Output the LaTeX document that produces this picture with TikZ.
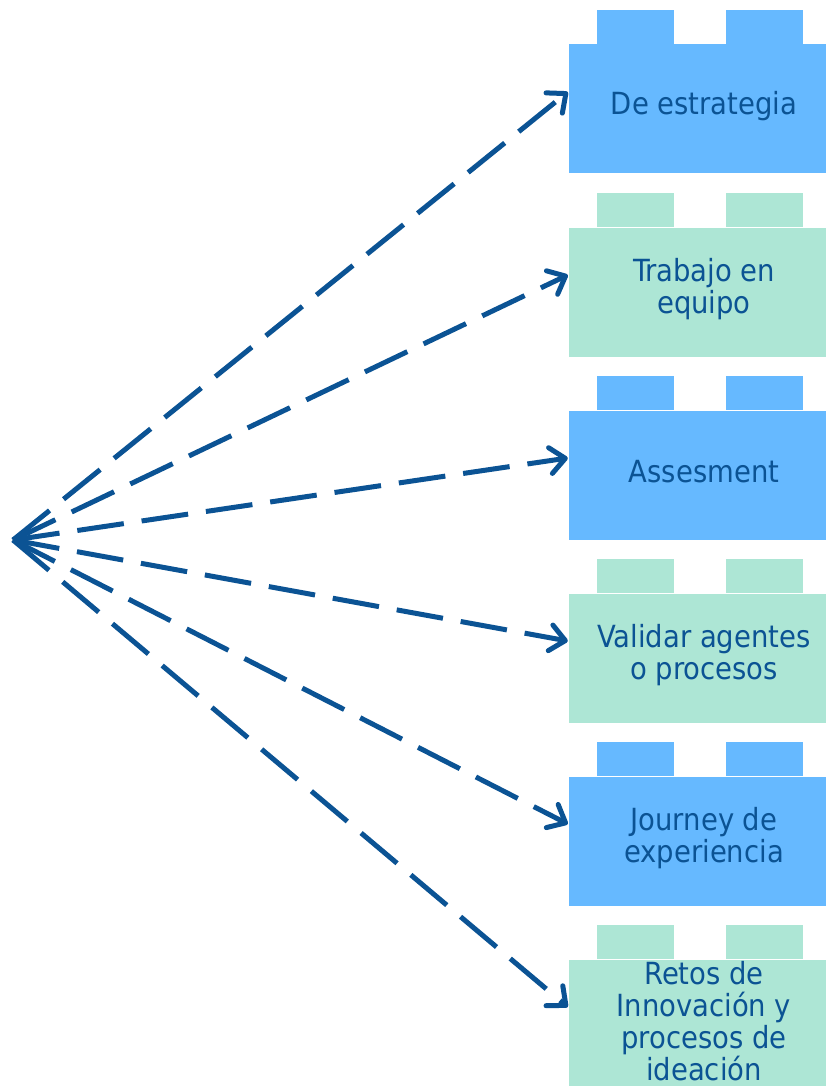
\documentclass[tikz,border=0pt]{standalone}
\usepackage{fontspec}
\setmainfont{DejaVu Sans Condensed}
\usetikzlibrary{arrows.meta}

\definecolor{legoblue}{RGB}{102,185,255}
\definecolor{legogreen}{RGB}{173,230,213}
\definecolor{inkblue}{RGB}{11,83,148}

\begin{document}
\begin{tikzpicture}

\newlength{\ydist}
\setlength{\ydist}{183pt}
\newlength{\studw}
\setlength{\studw}{77pt}
\newlength{\studh}
\setlength{\studh}{34pt}

\useasboundingbox (0,0) rectangle (825pt,-1086pt);

% styles
\pgfkeys{/lego/.style={inner sep=0, minimum width=262pt, minimum height=129pt}} % body of a brick
\pgfkeys{/legotext/.style={inner sep=0, align=center, text=inkblue, font=\fontsize{30.5}{32}\selectfont}} % text on a brick
\pgfkeys{/link/.style={draw=inkblue, line width=5pt, dash pattern=on 47pt off 18pt, -{Straight Barb[length=15pt, width=26pt, line cap=round, line join=round]}}} % dashed arrows

% common start of all arrows
\coordinate (o) at (13pt,-540pt);

% bricks with studs
\foreach \j/\col/\txt in {1/legoblue/{De estrategia}, 2/legogreen/{Trabajo en\\equipo}, 3/legoblue/{Assesment}, 4/legogreen/{Validar agentes\\o procesos}, 5/legoblue/{Journey de\\experiencia}, 6/legogreen/{Retos de\\Innovación y\\procesos de\\ideación}} {
\node[/lego, fill=\col] (B\j) at (700pt,{-109pt-(\j-1)*\ydist}) {};
\fill[\col] ([xshift=28pt]B\j.north west) rectangle +(\studw,\studh); % left stud
\fill[\col] ([xshift=157pt]B\j.north west) rectangle +(\studw,\studh); % right stud
\node[/legotext] (L\j) at ([shift={(4pt,3pt)}]B\j.center) {\txt};
\coordinate (tip\j) at ([shift={(-1pt,0.5\studh)}]B\j.west);
}

% arrows to each brick
\foreach \j in {1,...,6} {
\draw[/link] (o) -- (tip\j);
}

\end{tikzpicture}
\end{document}
